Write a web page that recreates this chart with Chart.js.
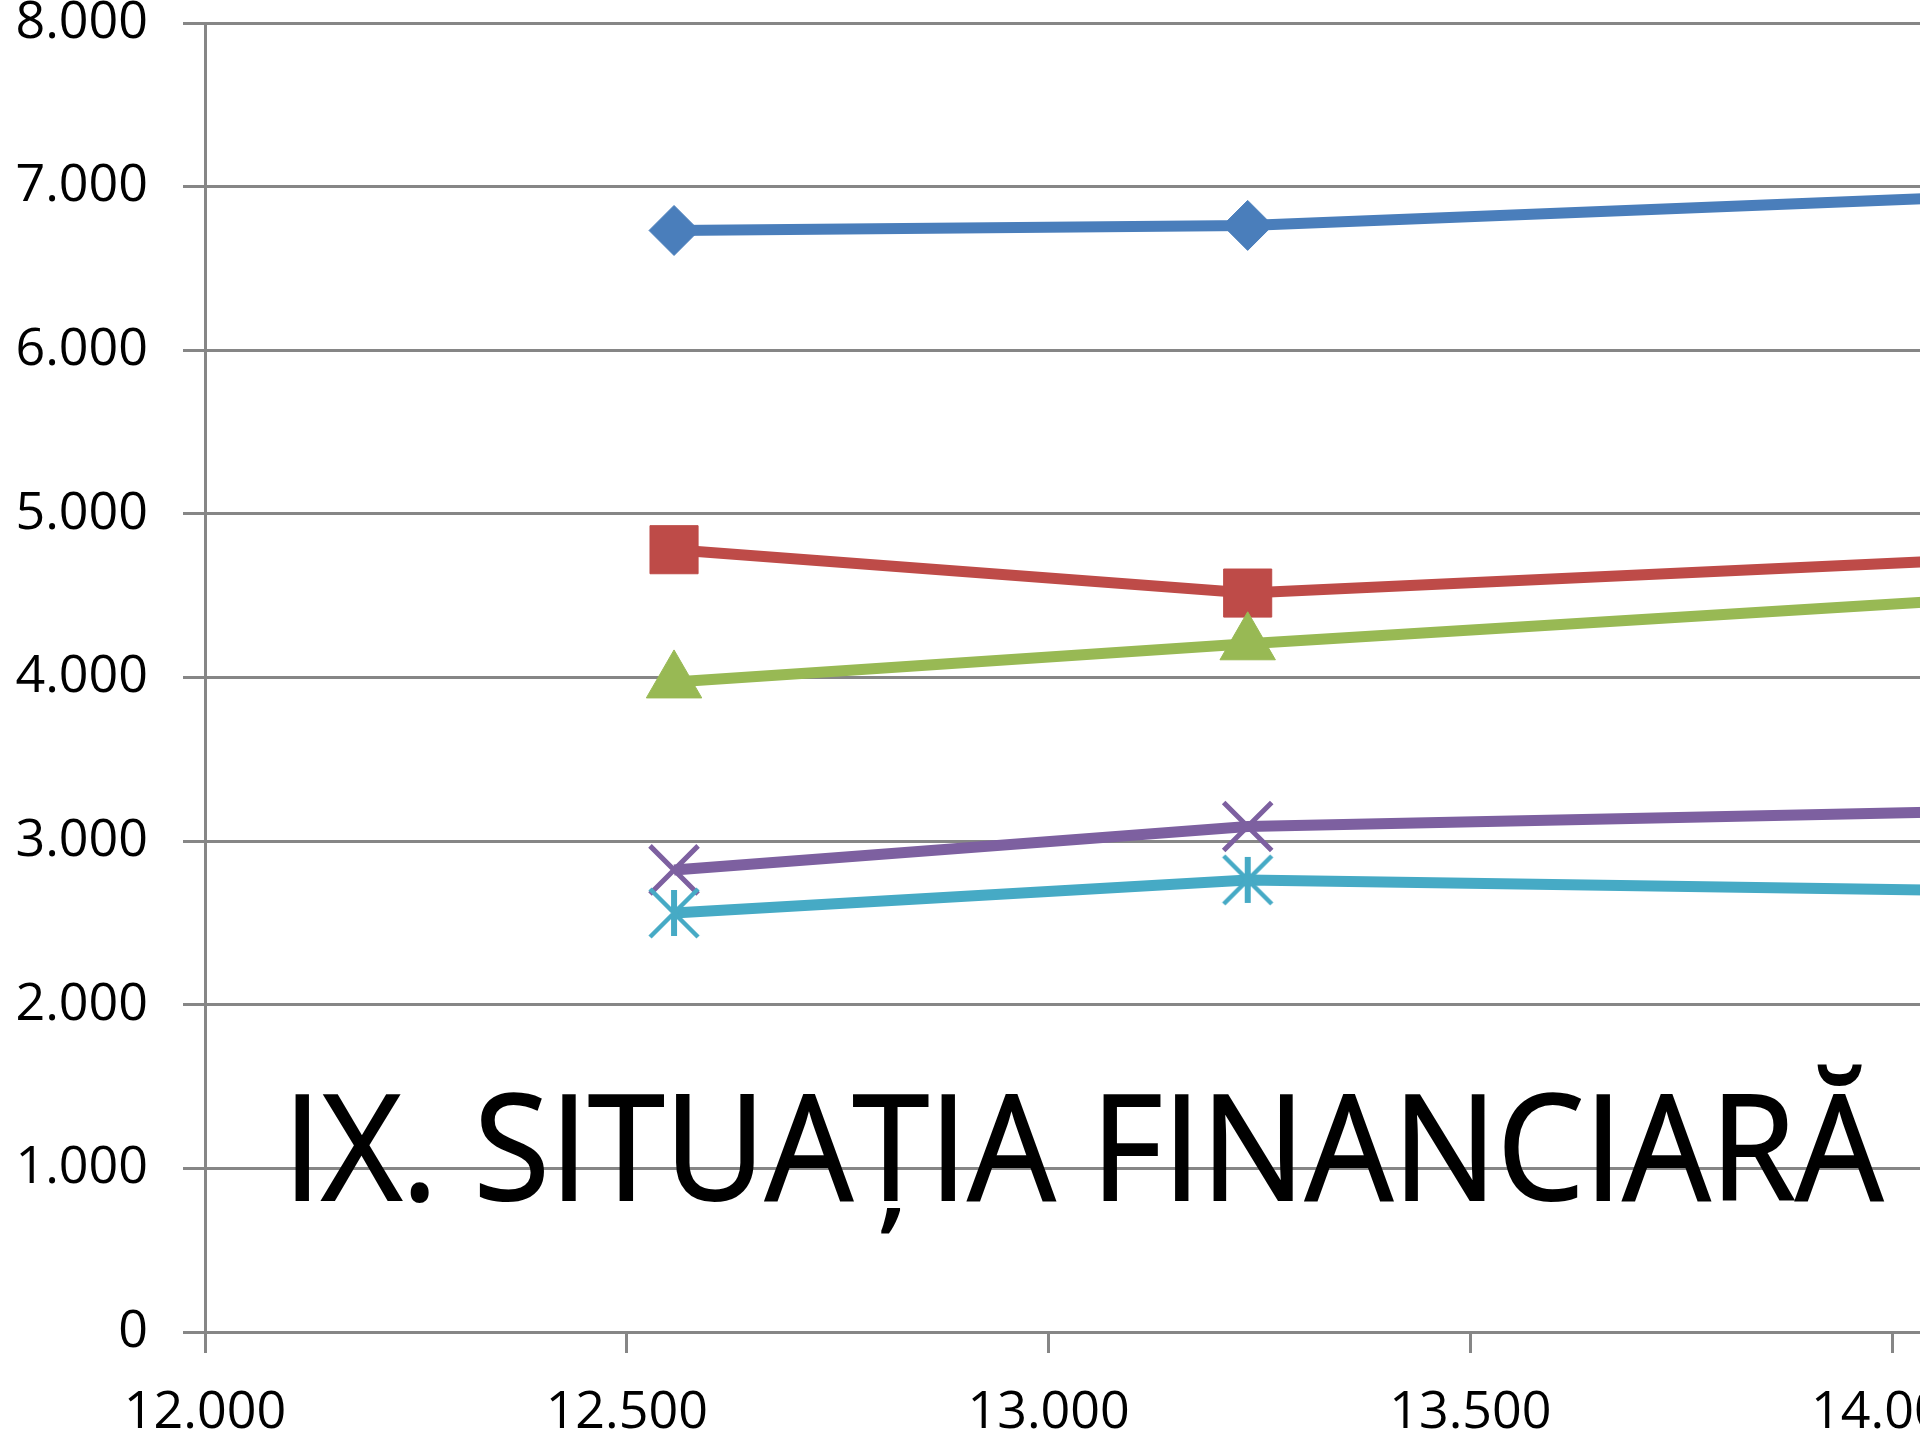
<!DOCTYPE html>
<html>
<head>
<meta charset="utf-8">
<script src="https://cdn.jsdelivr.net/npm/chart.js@4/dist/chart.umd.min.js"></script>
<style>
  html, body { margin: 0; padding: 0; background: #fff; }
  #wrap { position: relative; width: 1920px; height: 1440px; overflow: hidden; }
  #c { position: absolute; left: 0; top: 0; }
  #title {
    position: absolute; left: 283px; top: 1070px;
    font-family: "Open Sans", sans-serif; font-size: 147px; line-height: 147px;
    color: #000; -webkit-text-stroke: 2px #000;
    white-space: nowrap; transform-origin: 0 0;
  }
</style>
</head>
<body>
<div id="wrap">
  <canvas id="c" width="2400" height="1440"></canvas>
  <div id="title"><span id="titleText">IX. SITUAȚIA FINANCIARĂ</span></div>
</div>
<script>
// values (third point sits past the right edge of the slide)
const xValues = [12556, 13236, 14200];
const seria1 = [6732, 6763, 6960];
const seria2 = [4781, 4516, 4745];
const seria3 = [3973, 4206, 4512];
const seria4 = [2824, 3089, 3194];
const seria5 = [2561, 2763, 2689];

const xTicks = [12000, 12500, 13000, 13500, 14000, 14500];
const yTicks = [0, 1000, 2000, 3000, 4000, 5000, 6000, 7000, 8000];

const gridGray = '#868686';

// thousands with a dot, like the original
function fmt(v) {
  return String(v).replace(/\B(?=(\d{3})+(?!\d))/g, '.');
}

function pts(ys) {
  return xValues.map((x, i) => ({ x: x, y: ys[i] }));
}

// excel-style star: vertical bar + X
function starMarker(color) {
  const s = document.createElement('canvas');
  s.width = 60; s.height = 60;
  const g = s.getContext('2d');
  g.strokeStyle = color;
  g.lineWidth = 4.5;
  g.beginPath();
  g.moveTo(6, 6); g.lineTo(54, 54);
  g.moveTo(54, 6); g.lineTo(6, 54);
  g.stroke();
  g.lineWidth = 6;
  g.beginPath();
  g.moveTo(30, 7); g.lineTo(30, 53);
  g.stroke();
  return s;
}

const datasets = [
  { label: 'Seria 1', data: pts(seria1), borderColor: '#4A7EBB', backgroundColor: '#4A7EBB',
    pointStyle: 'rectRot', pointRadius: 25, pointBorderWidth: 1, order: 5 },
  { label: 'Seria 2', data: pts(seria2), borderColor: '#BE4B48', backgroundColor: '#BE4B48',
    pointStyle: 'rect', pointRadius: 34, pointBorderWidth: 1, order: 4 },
  { label: 'Seria 3', data: pts(seria3), borderColor: '#98B954', backgroundColor: '#98B954',
    pointStyle: 'triangle', pointRadius: 32, pointBorderWidth: 1, order: 3 },
  { label: 'Seria 4', data: pts(seria4), borderColor: '#7D60A0', backgroundColor: '#7D60A0',
    pointStyle: 'crossRot', pointRadius: 34, pointBorderWidth: 5, order: 2 },
  { label: 'Seria 5', data: pts(seria5), borderColor: '#46AAC5', backgroundColor: '#46AAC5',
    pointStyle: starMarker('#46AAC5'), pointRadius: 30, order: 1 }
];
datasets.forEach(d => {
  d.borderWidth = 11;
  d.fill = false;
  d.tension = 0;
});

const tickFont = { family: '"Open Sans", sans-serif', size: 52 };

new Chart(document.getElementById('c'), {
  type: 'line',
  data: { datasets: datasets },
  options: {
    responsive: false,
    animation: false,
    devicePixelRatio: 1,
    layout: { autoPadding: false, padding: { top: 23, right: 86, bottom: 0, left: 0 } },
    plugins: { legend: { display: false }, tooltip: { enabled: false } },
    scales: {
      x: {
        type: 'linear',
        min: xTicks[0],
        max: xTicks[xTicks.length - 1],
        afterBuildTicks: s => { s.ticks = xTicks.map(v => ({ value: v })); },
        ticks: { callback: v => fmt(v), font: tickFont, color: '#000', padding: 29,
                 maxRotation: 0, autoSkip: false },
        grid: { drawOnChartArea: false, drawTicks: true, tickLength: 21, color: gridGray, lineWidth: 3 },
        border: { display: true, color: gridGray, width: 3 },
        afterFit: s => { s.height = 108; s.paddingLeft = 0; s.paddingRight = 0; }
      },
      y: {
        type: 'linear',
        min: yTicks[0],
        max: yTicks[yTicks.length - 1],
        afterBuildTicks: s => { s.ticks = yTicks.map(v => ({ value: v })); },
        ticks: { callback: v => fmt(v), font: tickFont, color: '#000', padding: 35, autoSkip: false },
        grid: { drawOnChartArea: true, drawTicks: true, tickLength: 22, color: gridGray, lineWidth: 3 },
        border: { display: true, color: gridGray, width: 3 },
        afterFit: s => { s.width = 205; s.paddingTop = 0; s.paddingBottom = 0; }
      }
    }
  }
});

// squeeze the title to the width it has on the slide
const span = document.getElementById('titleText');
const natural = span.getBoundingClientRect().width;
document.getElementById('title').style.transform = 'scaleX(' + (1600 / natural) + ')';
</script>
</body>
</html>
